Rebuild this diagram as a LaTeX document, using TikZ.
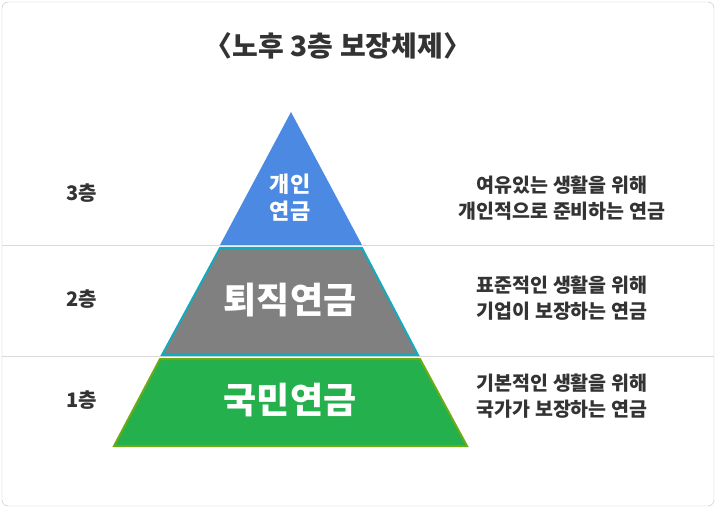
\documentclass[tikz,border=0pt]{standalone}
\usepackage{fontspec}
\setmainfont{Noto Sans CJK KR}
\begin{document}
\begin{tikzpicture}[x=1pt,y=-1pt,
  lbl/.style={text=black!80,font=\bfseries\fontsize{20}{22}\selectfont},
  desc/.style={text=black!80,font=\bfseries\fontsize{19.5}{26}\selectfont,align=center},
  inner/.style={text=white,font=\bfseries\fontsize{36}{38}\selectfont}]
\useasboundingbox (0,0) rectangle (716,508);
\draw[black!25,rounded corners=6pt] (2,2) rectangle (714,506);
\draw[black!15] (2,245) -- (714,245);
\draw[black!15] (2,356) -- (714,356);
\fill[fill={rgb,255:red,75;green,137;blue,226}] (291,112) -- (362,245) -- (220,245) -- cycle;
\filldraw[fill={rgb,255:red,128;green,128;blue,128},draw={rgb,255:red,20;green,170;blue,190},line width=2pt] (220,248) -- (362,248) -- (418,355) -- (162,355) -- cycle;
\filldraw[fill={rgb,255:red,36;green,176;blue,76},draw={rgb,255:red,110;green,170;blue,20},line width=2pt] (160,359) -- (420,359) -- (467,446) -- (114,446) -- cycle;
\node[text=black!80,font=\bfseries\fontsize{28}{30}\selectfont] (title) at (338,46) {〈노후 3층 보장체제〉};
\node[text=white,font=\bfseries\fontsize{22}{27}\selectfont,align=center] (n3) at (290,198) {개인\\연금};
\node[inner] (n2) at (290,300) {퇴직연금};
\node[inner] (n1) at (290,400) {국민연금};
\node[lbl] (l3) at (82,193) {3층};
\node[lbl] (l2) at (82,299) {2층};
\node[lbl] (l1) at (82,400) {1층};
\node[desc] (d3) at (562,198) {여유있는 생활을 위해\\개인적으로 준비하는 연금};
\node[desc] (d2) at (562,298) {표준적인 생활을 위해\\기업이 보장하는 연금};
\node[desc] (d1) at (562,396) {기본적인 생활을 위해\\국가가 보장하는 연금};
\end{tikzpicture}
\end{document}
